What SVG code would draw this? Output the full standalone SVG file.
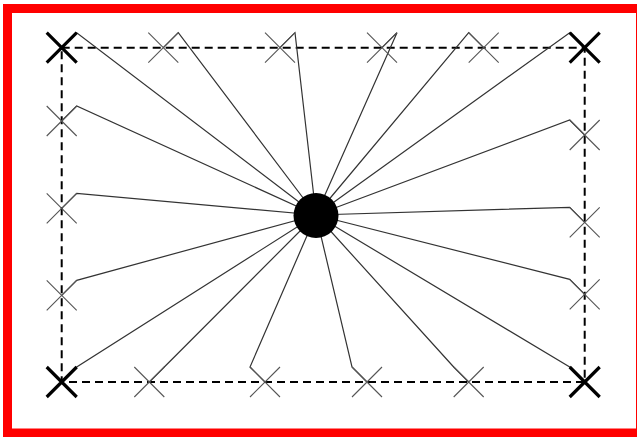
<svg xmlns="http://www.w3.org/2000/svg" width="637" height="437" viewBox="0 0 637 437">
<style>
.frame{fill:none;stroke:#ff0000;stroke-width:9}
.dash{fill:none;stroke:#000;stroke-width:2;stroke-dasharray:8 5}
.big{stroke:#000;stroke-width:3.2;fill:none}
.small{stroke:#555;stroke-width:1.1;fill:none}
.link{stroke:#333;stroke-width:1.2;fill:none;stroke-linejoin:miter}
</style>
<defs>
<g id="xs"><path d="M-15,-15L15,15M15,-15L-15,15"/></g>
</defs>
<rect width="637" height="437" fill="#fff"/>
<rect class="frame" x="7.5" y="8.5" width="633" height="424.5"/>
<rect id="boundary" class="dash" x="61.7" y="47.7" width="523" height="334.3"/>
<g id="connectors" class="link">
<polyline points="316,215 76.7,32.7 61.7,47.7"/>
<polyline points="316,215 178.3,32.7 163.3,47.7"/>
<polyline points="316,215 295,32.7 280,47.7"/>
<polyline points="316,215 397,32.7 382,47.7"/>
<polyline points="316,215 468.7,32.7 483.7,47.7"/>
<polyline points="316,215 569.7,32.7 584.7,47.7"/>
<polyline points="316,215 569.7,120 584.7,135"/>
<polyline points="316,215 569.7,207.3 584.7,222.3"/>
<polyline points="316,215 569.7,279.3 584.7,294.3"/>
<polyline points="316,215 569.7,367 584.7,382"/>
<polyline points="316,215 453.7,367 468.7,382"/>
<polyline points="316,215 352,367 367,382"/>
<polyline points="316,215 250,367 265,382"/>
<polyline points="316,215 164.3,367 149.3,382"/>
<polyline points="316,215 76.7,367 61.7,382"/>
<polyline points="316,215 76.7,280.3 61.7,295.3"/>
<polyline points="316,215 76.7,193.3 61.7,208.3"/>
<polyline points="316,215 76.7,106 61.7,121"/>
</g>
<g id="corner-tl" class="big"><use href="#xs" x="61.7" y="47.7"/></g>
<g id="corner-tr" class="big"><use href="#xs" x="584.7" y="47.7"/></g>
<g id="corner-bl" class="big"><use href="#xs" x="61.7" y="382"/></g>
<g id="corner-br" class="big"><use href="#xs" x="584.7" y="382"/></g>
<g id="top-1" class="small"><use href="#xs" x="163.3" y="47.7"/></g>
<g id="top-2" class="small"><use href="#xs" x="280" y="47.7"/></g>
<g id="top-3" class="small"><use href="#xs" x="382" y="47.7"/></g>
<g id="top-4" class="small"><use href="#xs" x="483.7" y="47.7"/></g>
<g id="right-1" class="small"><use href="#xs" x="584.7" y="135"/></g>
<g id="right-2" class="small"><use href="#xs" x="584.7" y="222.3"/></g>
<g id="right-3" class="small"><use href="#xs" x="584.7" y="294.3"/></g>
<g id="bottom-1" class="small"><use href="#xs" x="149.3" y="382"/></g>
<g id="bottom-2" class="small"><use href="#xs" x="265" y="382"/></g>
<g id="bottom-3" class="small"><use href="#xs" x="367" y="382"/></g>
<g id="bottom-4" class="small"><use href="#xs" x="468.7" y="382"/></g>
<g id="left-1" class="small"><use href="#xs" x="61.7" y="121"/></g>
<g id="left-2" class="small"><use href="#xs" x="61.7" y="208.3"/></g>
<g id="left-3" class="small"><use href="#xs" x="61.7" y="295.3"/></g>
<g id="hub"><circle cx="316" cy="215.5" r="22.5" fill="#000"/></g>
</svg>
